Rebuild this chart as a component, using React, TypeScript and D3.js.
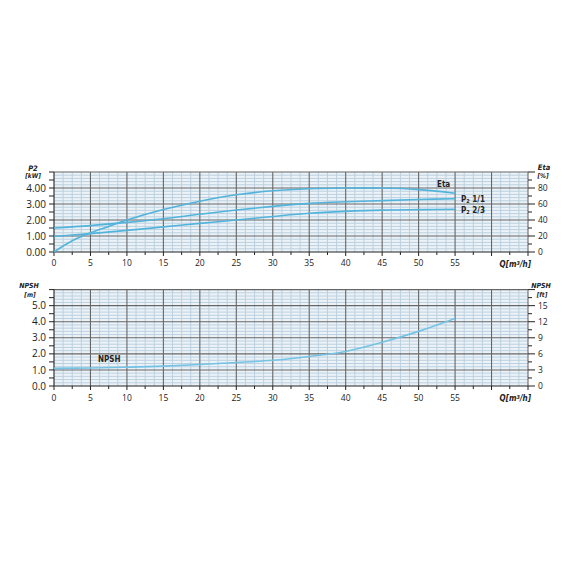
import React from "react";
import * as d3 from "d3";

// ---- data ----
const qEta = [0, 2.5, 5, 7.5, 10, 15, 20, 25, 30, 35, 40, 45, 50, 55];
const etaValues = [0, 14, 24, 32, 40, 53, 63.5, 71.5, 76.5, 79, 80, 80, 78, 73.5];
const qPoints = [0, 5, 10, 15, 20, 25, 30, 35, 40, 45, 50, 55];
const p2Full = [1.5, 1.65, 1.85, 2.08, 2.36, 2.62, 2.85, 3.04, 3.14, 3.21, 3.28, 3.33];
const p2TwoThirds = [0.97, 1.15, 1.35, 1.57, 1.79, 2.0, 2.22, 2.42, 2.54, 2.62, 2.65, 2.67];
const npshValues = [1.1, 1.12, 1.17, 1.24, 1.34, 1.46, 1.6, 1.84, 2.15, 2.72, 3.4, 4.2];

const qTickLabels = [0, 5, 10, 15, 20, 25, 30, 35, 40, 45, 50, 55];
const p2TickLabels = [0, 1, 2, 3, 4];
const etaTickLabels = [0, 20, 40, 60, 80];
const npshMTickLabels = [0, 1, 2, 3, 4, 5];
const npshFtTickLabels = [0, 3, 6, 9, 12, 15];

const W = 570;
const X0 = 54;
const X1 = 528;
const TOP1 = 172;
const BOT1 = 252;
const TOP2 = 289.6;
const BOT2 = 386;

const LINE = "#52b3db";
const NPSH_LINE = "#74c3e4";
const MAJOR = "#666666";
const MINOR = "#bcd0df";
const BG = "#ecf3f8";
const TICKFONT = "'Open Sans', 'Liberation Sans', sans-serif";
const NARROW = "'Liberation Sans Narrow', 'DejaVu Sans Condensed', sans-serif";

const x = d3.scaleLinear().domain([0, 65]).range([X0, X1]);

function Grid({ y, top, bottom, yMax }: { y: d3.ScaleLinear<number, number>; top: number; bottom: number; yMax: number }) {
  const minorY = d3.range(0, yMax + 0.001, 0.2).filter((v) => Math.abs(v - Math.round(v)) > 0.01);
  const majorY = d3.range(1, yMax + 0.001, 1);
  const minorX = d3.range(0, 65.001, 1.25).filter((v) => Math.abs(v / 5 - Math.round(v / 5)) > 0.01);
  const majorX = d3.range(5, 65.001, 5);
  return (
    <g>
      <rect x={X0} y={top} width={X1 - X0} height={bottom - top} fill={BG} />
      {minorY.map((v) => (
        <line key={"my" + v} x1={X0} x2={X1} y1={y(v)} y2={y(v)} stroke={MINOR} strokeWidth={1} />
      ))}
      {minorX.map((v) => (
        <line key={"mx" + v} x1={x(v)} x2={x(v)} y1={top} y2={bottom} stroke={MINOR} strokeWidth={1} />
      ))}
      {majorY.map((v) => (
        <line key={"My" + v} x1={X0} x2={X1} y1={y(v)} y2={y(v)} stroke={MAJOR} strokeWidth={1.1} />
      ))}
      {majorX.map((v) => (
        <line key={"Mx" + v} x1={x(v)} x2={x(v)} y1={top} y2={bottom} stroke={MAJOR} strokeWidth={1.1} />
      ))}
      <line x1={X0} x2={X0} y1={top} y2={bottom} stroke="#222" strokeWidth={1.1} />
      <line x1={X0} x2={X1} y1={bottom} y2={bottom} stroke="#222" strokeWidth={1.1} />
      {d3.range(0, yMax + 0.001, 0.5).map((v) => (
        <line key={"lt" + v} x1={X0 - 5} x2={X0} y1={y(v)} y2={y(v)} stroke="#222" strokeWidth={1} />
      ))}
      {d3.range(0, yMax + 0.001, 0.5).map((v) => (
        <line key={"rt" + v} x1={X1} x2={X1 + (Math.abs(v - Math.round(v)) < 0.01 ? 7 : 4)} y1={y(v)} y2={y(v)} stroke="#222" strokeWidth={1} />
      ))}
      {d3.range(0, 65.001, 2.5).map((v) => (
        <line key={"bt" + v} x1={x(v)} x2={x(v)} y1={bottom} y2={bottom + (v % 5 === 0 ? 4 : 3)} stroke="#222" strokeWidth={1} />
      ))}
    </g>
  );
}

export default function App() {
  const y1 = d3.scaleLinear().domain([0, 5]).range([BOT1, TOP1]);
  const yEta = d3.scaleLinear().domain([0, 100]).range([BOT1, TOP1]);
  const y2 = d3.scaleLinear().domain([0, 6]).range([BOT2, TOP2]);
  const yFt = d3.scaleLinear().domain([0, 18]).range([BOT2, TOP2]);

  const lineGen = (ys: d3.ScaleLinear<number, number>) =>
    d3
      .line<[number, number]>()
      .x((d) => x(d[0]))
      .y((d) => ys(d[1]))
      .curve(d3.curveCatmullRom.alpha(0.5));

  const etaPath = lineGen(yEta)(qEta.map((q, i) => [q, etaValues[i]] as [number, number])) || "";
  const p2FullPath = lineGen(y1)(qPoints.map((q, i) => [q, p2Full[i]] as [number, number])) || "";
  const p2TwoPath = lineGen(y1)(qPoints.map((q, i) => [q, p2TwoThirds[i]] as [number, number])) || "";
  const npshPath = lineGen(y2)(qPoints.map((q, i) => [q, npshValues[i]] as [number, number])) || "";

  return (
    <svg width={W} height={W} style={{ position: "absolute", left: 0, top: 0, background: "#fff" }}>
      <Grid y={y1} top={TOP1} bottom={BOT1} yMax={5} />
      <path d={p2TwoPath} fill="none" stroke={LINE} strokeWidth={1.6} />
      <path d={p2FullPath} fill="none" stroke={LINE} strokeWidth={1.6} />
      <path d={etaPath} fill="none" stroke={LINE} strokeWidth={1.6} />

      {p2TickLabels.map((v) => (
        <text key={"l1" + v} x={X0 - 8} y={y1(v) + 3.6} textAnchor="end" fontFamily={TICKFONT} fontSize={10} fill="#1a1a1a">
          {v.toFixed(2)}
        </text>
      ))}
      {etaTickLabels.map((v) => (
        <text key={"r1" + v} x={X1 + 10} y={yEta(v) + 3} textAnchor="start" fontFamily={TICKFONT} fontSize={8.5} fill="#1a1a1a">
          {v}
        </text>
      ))}
      {qTickLabels.map((v) => (
        <text key={"b1" + v} x={x(v)} y={BOT1 + 14} textAnchor="middle" fontFamily={TICKFONT} fontSize={8.5} fill="#1a1a1a">
          {v}
        </text>
      ))}
      <text x={531} y={BOT1 + 15} textAnchor="end" fontFamily={NARROW} fontStyle="italic" fontWeight="bold" fontSize={8} fill="#222">
        Q[m<tspan dy={-2.5} fontSize={5.5}>3</tspan><tspan dy={2.5}>/h]</tspan>
      </text>
      <text x={33} y={171} textAnchor="middle" fontFamily={NARROW} fontStyle="italic" fontWeight="bold" fontSize={7.5} fill="#222">P2</text>
      <text x={33} y={178} textAnchor="middle" fontFamily={NARROW} fontStyle="italic" fontWeight="bold" fontSize={6.5} fill="#222">[kW]</text>
      <text x={544} y={170} textAnchor="middle" fontFamily={NARROW} fontStyle="italic" fontWeight="bold" fontSize={7.5} fill="#222">Eta</text>
      <text x={543} y={178} textAnchor="middle" fontFamily={NARROW} fontStyle="italic" fontWeight="bold" fontSize={6.5} fill="#222">[%]</text>

      <text x={437} y={187} fontFamily={NARROW} fontWeight="bold" fontSize={8} fill="#222">Eta</text>
      <text x={461} y={202} fontFamily={NARROW} fontWeight="bold" fontSize={8} fill="#222">
        P<tspan fontSize={5.5} dy={1}>2</tspan><tspan dy={-1}> 1/1</tspan>
      </text>
      <text x={461} y={213} fontFamily={NARROW} fontWeight="bold" fontSize={8} fill="#222">
        P<tspan fontSize={5.5} dy={1}>2</tspan><tspan dy={-1}> 2/3</tspan>
      </text>

      <Grid y={y2} top={TOP2} bottom={BOT2} yMax={6} />
      <path d={npshPath} fill="none" stroke={NPSH_LINE} strokeWidth={1.6} />

      {npshMTickLabels.map((v) => (
        <text key={"l2" + v} x={X0 - 8} y={y2(v) + 3.6} textAnchor="end" fontFamily={TICKFONT} fontSize={10} fill="#1a1a1a">
          {v.toFixed(1)}
        </text>
      ))}
      {npshFtTickLabels.map((v) => (
        <text key={"r2" + v} x={X1 + 10} y={yFt(v) + 3} textAnchor="start" fontFamily={TICKFONT} fontSize={8.5} fill="#1a1a1a">
          {v}
        </text>
      ))}
      {qTickLabels.map((v) => (
        <text key={"b2" + v} x={x(v)} y={BOT2 + 15} textAnchor="middle" fontFamily={TICKFONT} fontSize={8.5} fill="#1a1a1a">
          {v}
        </text>
      ))}
      <text x={531} y={BOT2 + 15} textAnchor="end" fontFamily={NARROW} fontStyle="italic" fontWeight="bold" fontSize={8} fill="#222">
        Q[m<tspan dy={-2.5} fontSize={5.5}>3</tspan><tspan dy={2.5}>/h]</tspan>
      </text>
      <text x={29} y={287.5} textAnchor="middle" fontFamily={NARROW} fontStyle="italic" fontWeight="bold" fontSize={7} fill="#222">NPSH</text>
      <text x={30} y={296.5} textAnchor="middle" fontFamily={NARROW} fontStyle="italic" fontWeight="bold" fontSize={6.5} fill="#222">[m]</text>
      <text x={541} y={287.5} textAnchor="middle" fontFamily={NARROW} fontStyle="italic" fontWeight="bold" fontSize={7} fill="#222">NPSH</text>
      <text x={542} y={296.5} textAnchor="middle" fontFamily={NARROW} fontStyle="italic" fontWeight="bold" fontSize={6.5} fill="#222">[ft]</text>

      <text x={98} y={362} fontFamily={NARROW} fontWeight="bold" fontSize={8} fill="#222">NPSH</text>
    </svg>
  );
}
